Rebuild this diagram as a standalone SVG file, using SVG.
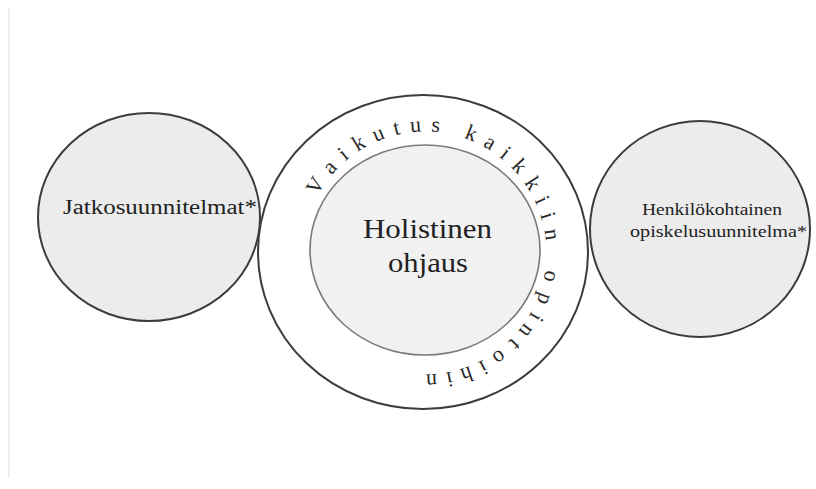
<svg xmlns="http://www.w3.org/2000/svg" width="816" height="489" viewBox="0 0 816 489">
<style>
.side{fill:#ececec;stroke:#3c3c3c;stroke-width:2}
.ring{fill:#ffffff;stroke:#3c3c3c;stroke-width:2}
.inner{fill:#f1f1f1;stroke:#7a7a7a;stroke-width:1.6}
.t{font-family:"Liberation Serif","DejaVu Serif",serif;fill:#222}
.c{font-family:"Liberation Serif","DejaVu Serif",serif;fill:#2a2a2a;font-size:22px;text-anchor:middle}
</style>
<rect width="816" height="489" fill="#ffffff"/>
<line x1="9" y1="8" x2="9" y2="478" stroke="#efefef" stroke-width="2"/>
<g id="jatko">
<ellipse class="side" cx="149" cy="217" rx="111" ry="104"/>
<text class="t" x="63" y="214" font-size="20" textLength="194" lengthAdjust="spacingAndGlyphs">Jatkosuunnitelmat*</text>
</g>
<g id="holistinen">
<ellipse class="ring" cx="423" cy="252" rx="165" ry="157"/>
<ellipse class="inner" cx="425" cy="250" rx="115" ry="105"/>
<text class="t" x="363" y="238" font-size="27" textLength="129" lengthAdjust="spacingAndGlyphs">Holistinen</text>
<text class="t" x="388" y="272" font-size="27" textLength="80" lengthAdjust="spacingAndGlyphs">ohjaus</text>
<g id="ring-text" transform="translate(425 253)">
<text class="c" y="-121.5" transform="rotate(-58.4)">V</text>
<text class="c" y="-121.5" transform="rotate(-47.9)">a</text>
<text class="c" y="-121.5" transform="rotate(-39.6)">i</text>
<text class="c" y="-121.5" transform="rotate(-31.1)">k</text>
<text class="c" y="-121.5" transform="rotate(-21.4)">u</text>
<text class="c" y="-121.5" transform="rotate(-12.8)">t</text>
<text class="c" y="-121.5" transform="rotate(-4.3)">u</text>
<text class="c" y="-121.5" transform="rotate(4.9)">s</text>
<text class="c" y="-121.5" transform="rotate(21.2)">k</text>
<text class="c" y="-121.5" transform="rotate(30.5)">a</text>
<text class="c" y="-121.5" transform="rotate(38.8)">i</text>
<text class="c" y="-121.5" transform="rotate(47.4)">k</text>
<text class="c" y="-121.5" transform="rotate(57.1)">k</text>
<text class="c" y="-121.5" transform="rotate(65.6)">i</text>
<text class="c" y="-121.5" transform="rotate(73.1)">i</text>
<text class="c" y="-121.5" transform="rotate(81.7)">n</text>
<text class="c" y="-121.5" transform="rotate(100.5)">o</text>
<text class="c" y="-121.5" transform="rotate(111)">p</text>
<text class="c" y="-121.5" transform="rotate(120)">i</text>
<text class="c" y="-121.5" transform="rotate(127.5)">n</text>
<text class="c" y="-121.5" transform="rotate(135.5)">t</text>
<text class="c" y="-121.5" transform="rotate(144.5)">o</text>
<text class="c" y="-121.5" transform="rotate(153)">i</text>
<text class="c" y="-121.5" transform="rotate(161)">h</text>
<text class="c" y="-121.5" transform="rotate(169)">i</text>
<text class="c" y="-121.5" transform="rotate(177)">n</text>
</g>
</g>
<g id="hops">
<ellipse class="side" cx="700" cy="229" rx="110" ry="108"/>
<text class="t" x="642" y="215" font-size="17" textLength="140" lengthAdjust="spacingAndGlyphs">Henkilökohtainen</text>
<text class="t" x="630" y="237" font-size="17" textLength="177" lengthAdjust="spacingAndGlyphs">opiskelusuunnitelma*</text>
</g>
<g id="connectors"></g>
</svg>
